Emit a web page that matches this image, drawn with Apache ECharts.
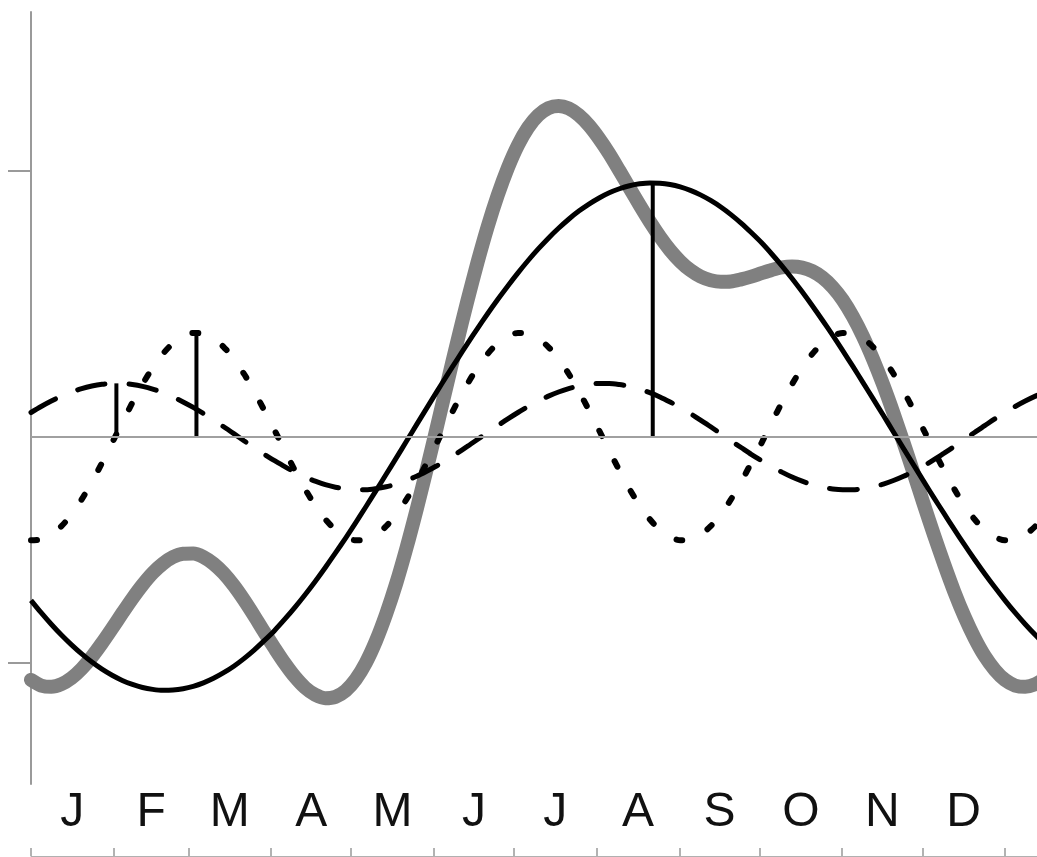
<!DOCTYPE html>
<html>
<head>
<meta charset="utf-8">
<script src="https://cdn.jsdelivr.net/npm/echarts@6/dist/echarts.min.js"></script>
<style>
html, body { margin: 0; padding: 0; background: #ffffff; }
#chart { width: 1037px; height: 857px; }
</style>
</head>
<body>
<div id="chart"></div>
<script>
// Day of year of each sample (96 samples per year, running a little past year end)
const days = [0.0, 3.8, 7.6, 11.4, 15.2, 19.0, 22.8, 26.6, 30.4, 34.2,
  38.0, 41.8, 45.6, 49.4, 53.2, 57.0, 60.8, 64.6, 68.4, 72.2,
  76.0, 79.8, 83.6, 87.4, 91.3, 95.1, 98.9, 102.7, 106.5, 110.3,
  114.1, 117.9, 121.7, 125.5, 129.3, 133.1, 136.9, 140.7, 144.5, 148.3,
  152.1, 155.9, 159.7, 163.5, 167.3, 171.1, 174.9, 178.7, 182.5, 186.3,
  190.1, 193.9, 197.7, 201.5, 205.3, 209.1, 212.9, 216.7, 220.5, 224.3,
  228.1, 231.9, 235.7, 239.5, 243.3, 247.1, 250.9, 254.7, 258.5, 262.3,
  266.1, 269.9, 273.8, 277.6, 281.4, 285.2, 289.0, 292.8, 296.6, 300.4,
  304.2, 308.0, 311.8, 315.6, 319.4, 323.2, 327.0, 330.8, 334.6, 338.4,
  342.2, 346.0, 349.8, 353.6, 357.4, 361.2, 365.0, 368.8, 372.6, 376.4, 380.2];

// Annual harmonic (solid black)
const annual = [-12.30, -13.23, -14.10, -14.91, -15.65, -16.33, -16.94, -17.47, -17.93, -18.32,
  -18.62, -18.85, -18.99, -19.06, -19.04, -18.94, -18.76, -18.50, -18.16, -17.74,
  -17.25, -16.68, -16.04, -15.33, -14.56, -13.72, -12.83, -11.88, -10.88, -9.83,
  -8.74, -7.62, -6.46, -5.27, -4.06, -2.83, -1.60, -0.35, 0.90, 2.14,
  3.38, 4.60, 5.79, 6.97, 8.12, 9.23, 10.30, 11.32, 12.30, 13.23,
  14.10, 14.91, 15.65, 16.33, 16.94, 17.47, 17.93, 18.32, 18.62, 18.85,
  18.99, 19.06, 19.04, 18.94, 18.76, 18.50, 18.16, 17.74, 17.25, 16.68,
  16.04, 15.33, 14.56, 13.72, 12.83, 11.88, 10.88, 9.83, 8.74, 7.62,
  6.46, 5.27, 4.06, 2.83, 1.60, 0.35, -0.90, -2.14, -3.38, -4.60,
  -5.79, -6.97, -8.12, -9.23, -10.30, -11.32, -12.30, -13.23, -14.10, -14.91, -15.65];

// Semi-annual harmonic (dashed)
const semiannual = [1.81, 2.26, 2.67, 3.04, 3.35, 3.61, 3.80, 3.93, 3.99, 3.99,
  3.91, 3.77, 3.57, 3.30, 2.98, 2.60, 2.19, 1.73, 1.24, 0.74,
  0.22, -0.31, -0.82, -1.33, -1.81, -2.26, -2.67, -3.04, -3.35, -3.61,
  -3.80, -3.93, -3.99, -3.99, -3.91, -3.77, -3.57, -3.30, -2.98, -2.60,
  -2.19, -1.73, -1.24, -0.74, -0.22, 0.31, 0.82, 1.33, 1.81, 2.26,
  2.67, 3.04, 3.35, 3.61, 3.80, 3.93, 3.99, 3.99, 3.91, 3.77,
  3.57, 3.30, 2.98, 2.60, 2.19, 1.73, 1.24, 0.74, 0.22, -0.31,
  -0.82, -1.33, -1.81, -2.26, -2.67, -3.04, -3.35, -3.61, -3.80, -3.93,
  -3.99, -3.99, -3.91, -3.77, -3.57, -3.30, -2.98, -2.60, -2.19, -1.73,
  -1.24, -0.74, -0.22, 0.31, 0.82, 1.33, 1.81, 2.26, 2.67, 3.04, 3.35];

// Four-monthly harmonic (dotted)
const terannual = [-7.79, -7.73, -7.37, -6.73, -5.84, -4.72, -3.41, -1.98, -0.47, 1.06,
  2.55, 3.94, 5.17, 6.21, 7.01, 7.54, 7.79, 7.73, 7.37, 6.73,
  5.84, 4.72, 3.41, 1.98, 0.47, -1.06, -2.55, -3.94, -5.17, -6.21,
  -7.01, -7.54, -7.79, -7.73, -7.37, -6.73, -5.84, -4.72, -3.41, -1.98,
  -0.47, 1.06, 2.55, 3.94, 5.17, 6.21, 7.01, 7.54, 7.79, 7.73,
  7.37, 6.73, 5.84, 4.72, 3.41, 1.98, 0.47, -1.06, -2.55, -3.94,
  -5.17, -6.21, -7.01, -7.54, -7.79, -7.73, -7.37, -6.73, -5.84, -4.72,
  -3.41, -1.98, -0.47, 1.06, 2.55, 3.94, 5.17, 6.21, 7.01, 7.54,
  7.79, 7.73, 7.37, 6.73, 5.84, 4.72, 3.41, 1.98, 0.47, -1.06,
  -2.55, -3.94, -5.17, -6.21, -7.01, -7.54, -7.79, -7.73, -7.37, -6.73, -5.84];

// Combined seasonal cycle (thick grey)
const total = [-18.28, -18.70, -18.80, -18.60, -18.14, -17.44, -16.55, -15.52, -14.41, -13.27,
  -12.16, -11.14, -10.25, -9.55, -9.05, -8.80, -8.78, -9.04, -9.55, -10.27,
  -11.19, -12.27, -13.45, -14.68, -15.90, -17.04, -18.05, -18.86, -19.40, -19.65,
  -19.55, -19.09, -18.24, -16.99, -15.34, -13.33, -11.01, -8.37, -5.49, -2.44,
  0.72, 3.93, 7.10, 10.17, 13.07, 15.75, 18.13, 20.19, 21.90, 23.22,
  24.14, 24.68, 24.84, 24.66, 24.15, 23.38, 22.39, 21.25, 19.98, 18.68,
  17.39, 16.15, 15.01, 14.00, 13.16, 12.50, 12.03, 11.75, 11.63, 11.65,
  11.81, 12.02, 12.28, 12.52, 12.71, 12.78, 12.70, 12.43, 11.95, 11.23,
  10.26, 9.01, 7.52, 5.79, 3.87, 1.77, -0.47, -2.76, -5.10, -7.39,
  -9.58, -11.65, -13.51, -15.13, -16.49, -17.53, -18.28, -18.70, -18.80, -18.60, -18.14];

// Day of first peak and amplitude of each harmonic: annual, semi-annual, four-monthly
const peakDays = [233, 32, 62];
const amplitudes = [19.06, 4.0, 7.8];

// Month boundaries (day of year) and their initials
const monthStarts = [0, 31, 59, 90, 120, 151, 181, 212, 243, 273, 304, 334, 365];
const monthLetters = ['J', 'F', 'M', 'A', 'M', 'J', 'J', 'A', 'S', 'O', 'N', 'D'];

// Marked values on the vertical axis
const yTicks = [-17, 20];

const monthMids = monthLetters.map((_, i) => (monthStarts[i] + monthStarts[i + 1]) / 2);
const letterAt = {};
monthMids.forEach((m, i) => { letterAt[m] = monthLetters[i]; });

const pairs = arr => days.map((d, i) => [d, arr[i]]);

const AXIS_GREY = '#9a9a9a';

// vertical strokes from the zero line up to each harmonic's first peak
const stemSeries = peakDays.map((d, i) => ({
  type: 'line',
  data: [[d, 0], [d, amplitudes[i]]],
  symbol: 'none',
  silent: true,
  z: 4,
  lineStyle: { color: '#000000', width: 4, cap: 'butt' }
}));

const chart = echarts.init(document.getElementById('chart'), null, { renderer: 'canvas' });

chart.setOption({
  animation: false,
  backgroundColor: '#ffffff',
  grid: { left: 31, right: 0, top: 12, bottom: 73, containLabel: false, outerBoundsMode: 'none' },
  xAxis: [
    {
      // month boundary ticks along the bottom edge
      type: 'value', min: 0, max: 377, position: 'bottom', offset: 72,
      axisLine: { show: true, onZero: false, lineStyle: { color: '#b0b0b0', width: 1 } },
      axisTick: { show: true, inside: true, length: 8, customValues: monthStarts,
        lineStyle: { color: '#999999', width: 1.5 } },
      axisLabel: { show: false },
      splitLine: { show: false }
    },
    {
      // month initials centred in each month
      type: 'value', min: 0, max: 377, position: 'bottom', offset: 0,
      axisLine: { show: false, onZero: false },
      axisTick: { show: false },
      splitLine: { show: false },
      axisLabel: {
        show: true, customValues: monthMids, margin: 5,
        fontFamily: 'Liberation Sans, Arial, sans-serif', fontSize: 48, color: '#111111',
        formatter: v => letterAt[v] || ''
      }
    }
  ],
  yAxis: {
    type: 'value', min: -26.1, max: 31.9,
    axisLine: { show: true, onZero: false, lineStyle: { color: AXIS_GREY, width: 2 } },
    axisTick: { show: true, inside: false, length: 23, customValues: yTicks,
      lineStyle: { color: AXIS_GREY, width: 2 } },
    axisLabel: { show: false },
    splitLine: { show: false }
  },
  series: [
    {
      type: 'line', name: 'total', data: pairs(total), smooth: 0.3, symbol: 'none', z: 2,
      lineStyle: { color: '#808080', width: 14, cap: 'round', join: 'round' },
      markLine: {
        silent: true, symbol: 'none', label: { show: false },
        lineStyle: { color: '#a0a0a0', width: 2, type: 'solid' },
        data: [{ yAxis: 0 }]
      }
    },
    {
      type: 'line', name: 'annual', data: pairs(annual), smooth: 0.3, symbol: 'none', z: 3,
      lineStyle: { color: '#000000', width: 5, join: 'round' }
    },
    {
      type: 'line', name: 'semiannual', data: pairs(semiannual), smooth: 0.3, symbol: 'none', z: 3,
      lineStyle: { color: '#000000', width: 5, type: [28, 24], cap: 'round' }
    },
    {
      type: 'line', name: 'terannual', data: pairs(terannual), smooth: 0.3, symbol: 'none', z: 3,
      lineStyle: { color: '#000000', width: 6, type: [6, 28], cap: 'round' }
    }
  ].concat(stemSeries)
});
</script>
</body>
</html>
